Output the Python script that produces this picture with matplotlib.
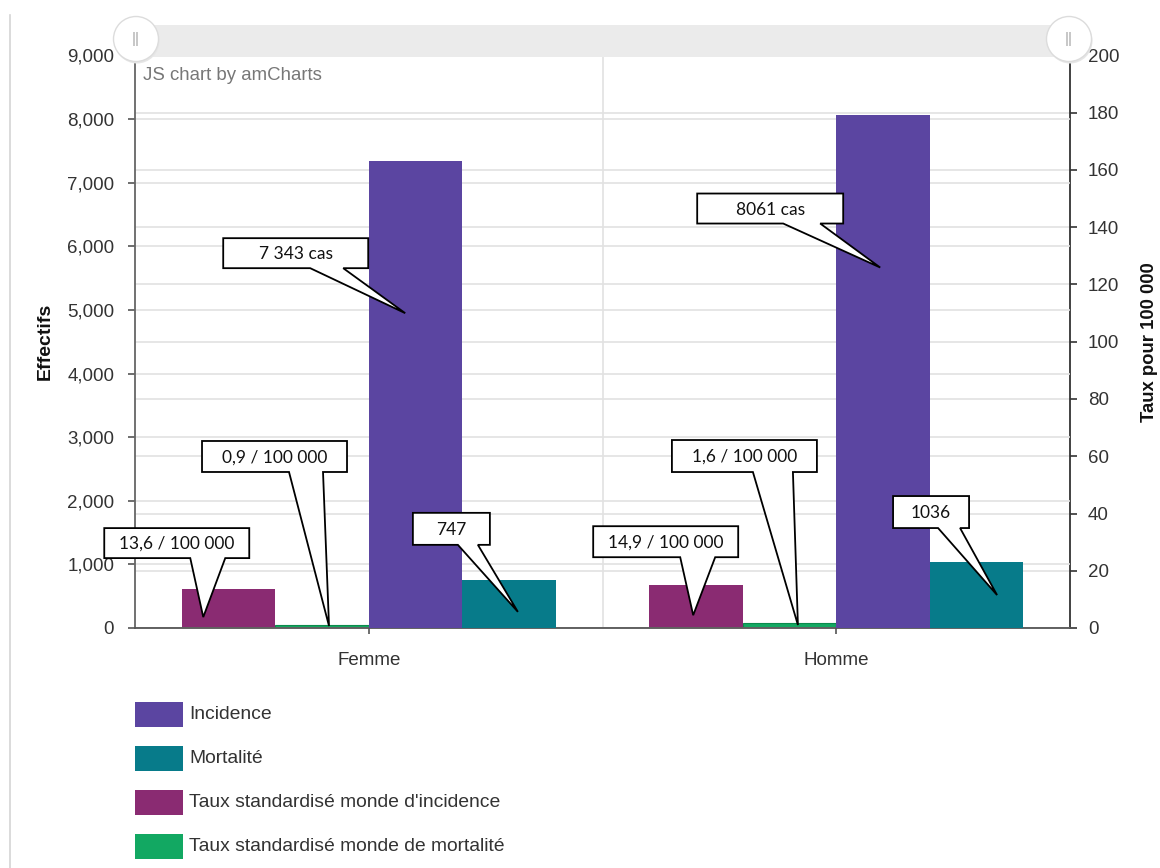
import matplotlib
matplotlib.use("Agg")
import matplotlib.pyplot as plt
import numpy as np
from matplotlib.patches import Polygon, Rectangle, Circle
from matplotlib.lines import Line2D
from matplotlib.transforms import IdentityTransform
from matplotlib.ticker import FuncFormatter, MultipleLocator

# ---- data -------------------------------------------------------------
categories = ["Femme", "Homme"]
incidence = [7343, 8061]            # effectifs (left axis)
mortalite = [747, 1036]             # effectifs (left axis)
taux_incidence = [13.6, 14.9]       # taux pour 100 000 (right axis)
taux_mortalite = [0.9, 1.6]         # taux pour 100 000 (right axis)

legend_labels = ["Incidence", "Mortalité",
                 "Taux standardisé monde d'incidence",
                 "Taux standardisé monde de mortalité"]

# ---- style ------------------------------------------------------------
C_INC = "#5B45A1"
C_MORT = "#077B8A"
C_TINC = "#8A2B72"
C_TMORT = "#12A862"
GRID = "#e2e2e2"
TXT = "#333333"
FONT = "Liberation Sans"
CALLOUT_FONT = "Lato"

W, H = 1160, 868
fig = plt.figure(figsize=(W / 100, H / 100), dpi=100)
fig.patch.set_facecolor("white")

ax = fig.add_axes([135 / W, 1 - 628 / H, 935 / W, (628 - 55.5) / H])
ax2 = ax.twinx()
ax.set_zorder(2)
ax2.set_zorder(1)
ax.patch.set_visible(False)

x = np.arange(len(categories))
bw = 0.2
ax2.bar(x - 0.3, taux_incidence, bw, color=C_TINC, zorder=3)
ax2.bar(x - 0.1, taux_mortalite, bw, color=C_TMORT, edgecolor="#0b8a4c", lw=0.8, zorder=3)
ax.bar(x + 0.1, incidence, bw, color=C_INC, zorder=3)
ax.bar(x + 0.3, mortalite, bw, color=C_MORT, zorder=3)

ax.set_xlim(-0.5, 1.5)
ax.set_ylim(0, 9000)
ax2.set_ylim(0, 200)

# grids
ax.set_axisbelow(True)
ax.yaxis.set_major_locator(MultipleLocator(1000))
ax2.yaxis.set_major_locator(MultipleLocator(20))
ax.yaxis.grid(True, color=GRID, lw=1.2)
ax2.yaxis.grid(True, color=GRID, lw=1.2)
ax.axvline(0.5, color=GRID, lw=1.2, zorder=0)

ax.yaxis.set_major_formatter(FuncFormatter(lambda v, p: f"{int(v):,}"))
ax.set_xticks(x)
ax.set_xticklabels(categories)

for a in (ax, ax2):
    for s in a.spines.values():
        s.set_visible(False)
ax.spines["left"].set_visible(True)
ax.spines["left"].set_color("#666666")
ax.spines["bottom"].set_visible(True)
ax.spines["bottom"].set_color("#555555")
ax2.spines["right"].set_visible(True)
ax2.spines["right"].set_color("#333333")
for sp in (ax.spines["left"], ax.spines["bottom"], ax2.spines["right"]):
    sp.set_linewidth(1.3)

ax.tick_params(axis="y", length=5, width=1.2, color="#555555", pad=10,
               labelsize=13.5, labelcolor=TXT)
ax.tick_params(axis="x", length=4, width=1.2, color="#555555", pad=13,
               labelsize=13.5, labelcolor=TXT)
ax2.tick_params(axis="y", length=5, width=1.2, color="#333333", pad=8,
                labelsize=13.5, labelcolor=TXT)
for lab in ax.get_xticklabels() + ax.get_yticklabels() + ax2.get_yticklabels():
    lab.set_family(FONT)

# axis titles
fig.text(45 / W, 1 - 341 / H, "Effectifs", rotation=90, ha="center", va="center",
         fontsize=14, fontweight="bold", family=FONT, color="#111111")
fig.text(1150 / W, 1 - 342 / H, "Taux pour 100 000", rotation=90, ha="center",
         va="center", fontsize=13.3, fontweight="bold", family=FONT, color="#111111")

# credit text
fig.text(143 / W, 1 - 76 / H, "JS chart by amCharts", ha="left", va="center",
         fontsize=13.4, family=FONT, color="#777777")

# scrollbar strip with its two grips
fig.add_artist(Rectangle((135 / W, 1 - 57 / H), 935 / W, 32 / H,
                         facecolor="#ebebeb", edgecolor="none", zorder=4))
for cx in (136, 1069):
    fig.add_artist(Circle((cx + 1, H - 41), 22.5, transform=IdentityTransform(),
                          facecolor="#e6e6e6", edgecolor="none", zorder=5))
    fig.add_artist(Circle((cx, H - 39), 22.5, transform=IdentityTransform(),
                          facecolor="white", edgecolor="#dcdcdc", lw=1.0, zorder=5))
    fig.text(cx, H - 39, "||", transform=IdentityTransform(), ha="center",
             va="center", fontsize=11, color="#a8a8a8", family=FONT, zorder=6)

# page border on the left
fig.add_artist(Line2D([9.5, 9.5], [0, H - 15], transform=IdentityTransform(),
                      color="#d4d4d4", lw=1.2))


# ---- callouts ---------------------------------------------------------
def fr_dec(v):
    return f"{v:.1f}".replace(".", ",")


def fr_int(v, sep):
    return f"{v:,}".replace(",", sep)


inc_sep = [" ", ""]


def callout(axis, tip_x, tip_y, text, box, base):
    # box = (left, right, top, bottom) in pixels from the tip, y pointing down
    tx, ty = axis.transData.transform((tip_x, tip_y))
    l, r, t, b = box
    x0, x1 = base
    pts = [(l, t), (r, t), (r, b), (x1, b), (0, 0), (x0, b), (l, b)]
    verts = [(tx + dx, ty - dy) for dx, dy in pts]
    fig.add_artist(Polygon(verts, closed=True, transform=IdentityTransform(),
                           facecolor="white", edgecolor="black", lw=1.3,
                           joinstyle="miter", zorder=7))
    fig.text(tx + (l + r) / 2, ty - (t + b) / 2 - 1, text,
             transform=IdentityTransform(), ha="center", va="center",
             fontsize=12.5, family=CALLOUT_FONT, color="#111111", zorder=8)


# (tip dx from bar centre, tip height as share of bar, box, pointer base)
inc_geo = [(-0.022, 0.674, (-182, -37, -75, -45), (-95, -62)),
           (-0.006, 0.703, (-183, -37, -74, -44), (-97, -60))]
mort_geo = [(0.019, 0.34, (-105, -28, -99, -67), (-60, -40)),
            (0.044, 0.50, (-104, -28, -99, -67), (-59, -37))]
tinc_geo = [(-0.054, 0.28, (-99, 46, -89, -59), (-13, 22)),
            (-0.006, 0.30, (-100, 45, -89, -58), (-13, 22))]
tmort_geo = [(0.015, 0.78, (-127, 18, -185, -154), (-40, -6)),
             (0.018, 0.65, (-126, 19, -185, -153), (-45, -5))]

for i in range(len(categories)):
    dx, fr, box, base = inc_geo[i]
    callout(ax, x[i] + 0.1 + dx, incidence[i] * fr,
            f"{fr_int(incidence[i], inc_sep[i])} cas", box, base)
    dx, fr, box, base = mort_geo[i]
    callout(ax, x[i] + 0.3 + dx, mortalite[i] * fr, f"{mortalite[i]}", box, base)
    dx, fr, box, base = tinc_geo[i]
    callout(ax2, x[i] - 0.3 + dx, taux_incidence[i] * fr,
            f"{fr_dec(taux_incidence[i])} / 100 000", box, base)
    dx, fr, box, base = tmort_geo[i]
    callout(ax2, x[i] - 0.1 + dx, taux_mortalite[i] * fr,
            f"{fr_dec(taux_mortalite[i])} / 100 000", box, base)

# ---- legend -----------------------------------------------------------
legend_colors = [C_INC, C_MORT, C_TINC, C_TMORT]
for k, (lab, col) in enumerate(zip(legend_labels, legend_colors)):
    ytop = 702 + 44 * k
    fig.add_artist(Rectangle((135 / W, 1 - (ytop + 25) / H), 48 / W, 25 / H,
                             facecolor=col, edgecolor="none"))
    fig.text(189 / W, 1 - (ytop + 12.5) / H, lab, ha="left", va="center",
             fontsize=13.9, family=FONT, color=TXT)

fig.savefig("out.png", dpi=100)
